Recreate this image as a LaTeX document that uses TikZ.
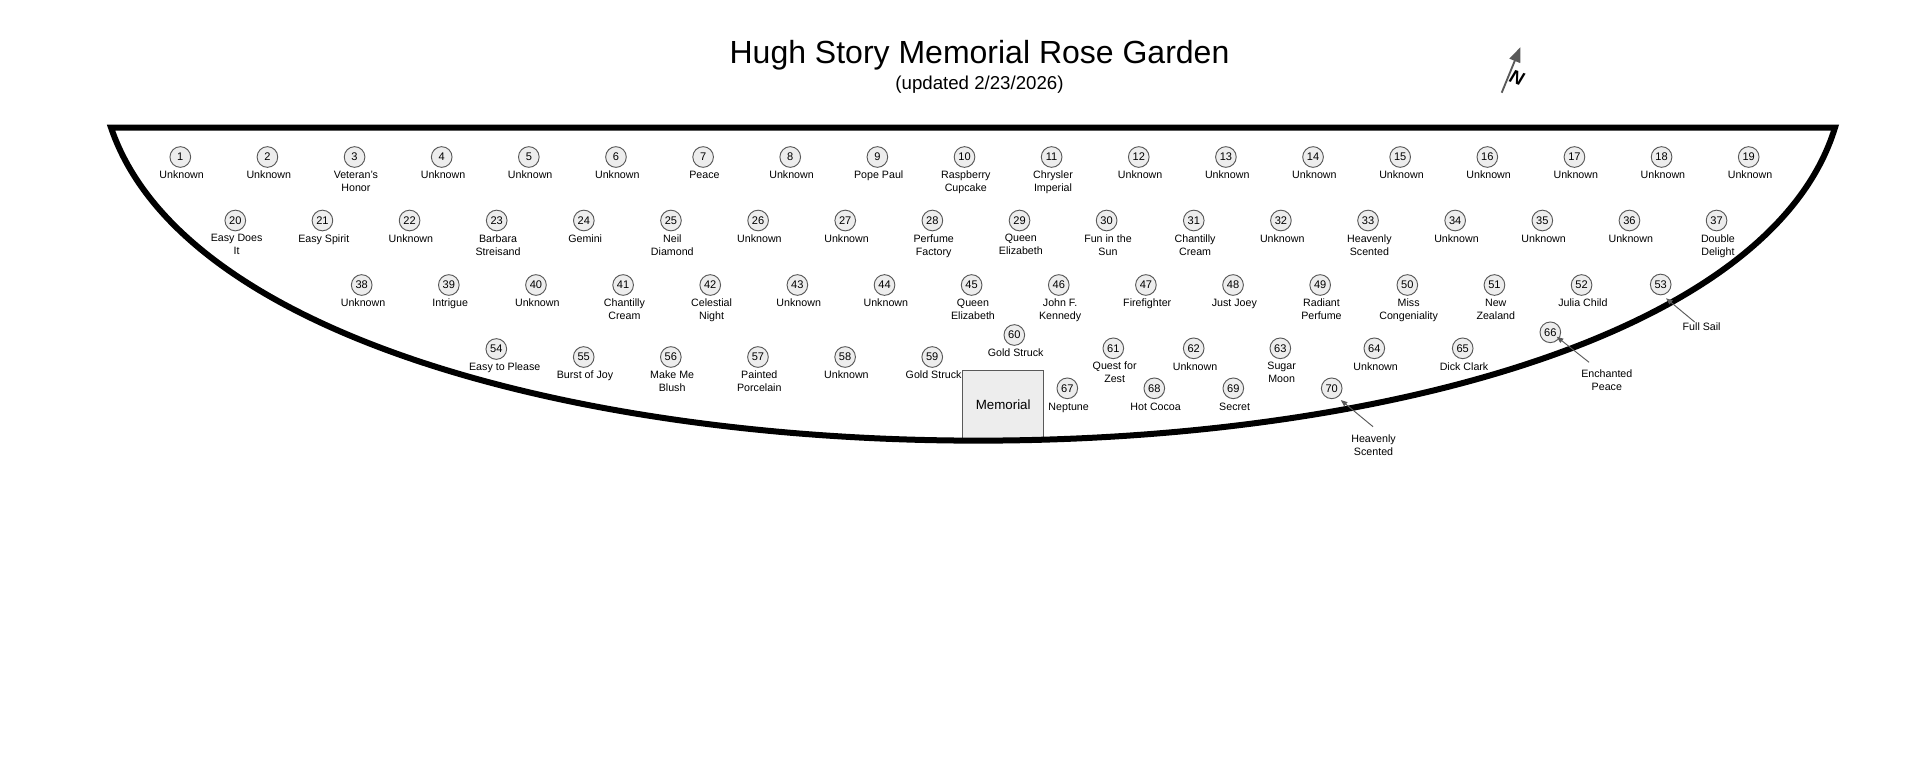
\documentclass[tikz,border=0pt]{standalone}
\usepackage{fontspec}
\setmainfont{Liberation Sans}
\usepackage{tikz}
\usetikzlibrary{arrows.meta,positioning}

\begin{document}
\begin{tikzpicture}[
  x=0.75pt, y=-0.75pt,
  node distance=49.85pt,
  rose/.style={draw=black!65, fill=black!7, circle, line width=0.7pt, minimum size=15.5pt, inner sep=0pt, outer sep=0pt, font=\fontsize{8.3}{9}\selectfont},
  rosename/.style={align=center, inner sep=0pt, outer sep=0pt, xshift=1pt, execute at begin node={\rule{0pt}{6pt}}, font=\fontsize{8}{9.75}\selectfont},
  memorial/.style={draw=black!65, fill=black!7, line width=0.7pt, minimum width=60.75pt, minimum height=51pt, inner sep=0pt, outer sep=0pt, font=\fontsize{10}{12}\selectfont},
  pointer/.style={-{Triangle[length=5pt,width=3.8pt]}, draw=black!65, line width=0.7pt},
  northarrow/.style={-{Triangle[length=11pt,width=8.5pt]}, draw=black!65, line width=1.4pt}
]
  \useasboundingbox (0,0) rectangle (1920,768);

  \node[font=\fontsize{24}{28}\selectfont] (title) at (979.5,55.5) {Hugh Story Memorial Rose Garden};
  \node[font=\fontsize{14}{16}\selectfont] (subtitle) at (979.5,85) {(updated 2/23/2026)};

  % north arrow
  \coordinate (tail) at (1501.7,92.7);
  \coordinate (head) at (1520.3,47.3);
  \draw[northarrow] (tail) -- (head);
  \node[rotate=-20, font=\fontsize{14}{16}\bfseries\itshape\selectfont] (north) at (1517,77.5) {N};

  % memorial, then the bed outline over its lower edge
  \node[memorial] (stone) at (1003.2,404.3) {Memorial};
  \draw[line width=4.5pt, miter limit=10] (111,127.5) .. controls (252,545) and (1708,545) .. (1835,127.5) -- cycle;

  % first row
  \node[rose] (r1) at (180.3,157) {1};
  \node[rose, right=of r1] (r2) {2};
  \node[rose, right=of r2] (r3) {3};
  \node[rose, right=of r3] (r4) {4};
  \node[rose, right=of r4] (r5) {5};
  \node[rose, right=of r5] (r6) {6};
  \node[rose, right=of r6] (r7) {7};
  \node[rose, right=of r7] (r8) {8};
  \node[rose, right=of r8] (r9) {9};
  \node[rose, right=of r9] (r10) {10};
  \node[rose, right=of r10] (r11) {11};
  \node[rose, right=of r11] (r12) {12};
  \node[rose, right=of r12] (r13) {13};
  \node[rose, right=of r13] (r14) {14};
  \node[rose, right=of r14] (r15) {15};
  \node[rose, right=of r15] (r16) {16};
  \node[rose, right=of r16] (r17) {17};
  \node[rose, right=of r17] (r18) {18};
  \node[rose, right=of r18] (r19) {19};

  \node[rosename, below=2.7pt of r1] (n1) {Unknown};
  \node[rosename, below=2.7pt of r2] (n2) {Unknown};
  \node[rosename, below=2.7pt of r3] (n3) {Veteran's\\Honor};
  \node[rosename, below=2.7pt of r4] (n4) {Unknown};
  \node[rosename, below=2.7pt of r5] (n5) {Unknown};
  \node[rosename, below=2.7pt of r6] (n6) {Unknown};
  \node[rosename, below=2.7pt of r7] (n7) {Peace};
  \node[rosename, below=2.7pt of r8] (n8) {Unknown};
  \node[rosename, below=2.7pt of r9] (n9) {Pope Paul};
  \node[rosename, below=2.7pt of r10] (n10) {Raspberry\\Cupcake};
  \node[rosename, below=2.7pt of r11] (n11) {Chrysler\\Imperial};
  \node[rosename, below=2.7pt of r12] (n12) {Unknown};
  \node[rosename, below=2.7pt of r13] (n13) {Unknown};
  \node[rosename, below=2.7pt of r14] (n14) {Unknown};
  \node[rosename, below=2.7pt of r15] (n15) {Unknown};
  \node[rosename, below=2.7pt of r16] (n16) {Unknown};
  \node[rosename, below=2.7pt of r17] (n17) {Unknown};
  \node[rosename, below=2.7pt of r18] (n18) {Unknown};
  \node[rosename, below=2.7pt of r19] (n19) {Unknown};

  % second row
  \node[rose] (r20) at (235.3,220.5) {20};
  \node[rose, right=of r20] (r21) {21};
  \node[rose, right=of r21] (r22) {22};
  \node[rose, right=of r22] (r23) {23};
  \node[rose, right=of r23] (r24) {24};
  \node[rose, right=of r24] (r25) {25};
  \node[rose, right=of r25] (r26) {26};
  \node[rose, right=of r26] (r27) {27};
  \node[rose, right=of r27] (r28) {28};
  \node[rose, right=of r28] (r29) {29};
  \node[rose, right=of r29] (r30) {30};
  \node[rose, right=of r30] (r31) {31};
  \node[rose, right=of r31] (r32) {32};
  \node[rose, right=of r32] (r33) {33};
  \node[rose, right=of r33] (r34) {34};
  \node[rose, right=of r34] (r35) {35};
  \node[rose, right=of r35] (r36) {36};
  \node[rose, right=of r36] (r37) {37};

  \node[rosename, below=2.7pt of r20] (n20) {Easy Does\\It};
  \node[rosename, below=2.7pt of r21] (n21) {Easy Spirit};
  \node[rosename, below=2.7pt of r22] (n22) {Unknown};
  \node[rosename, below=2.7pt of r23] (n23) {Barbara\\Streisand};
  \node[rosename, below=2.7pt of r24] (n24) {Gemini};
  \node[rosename, below=2.7pt of r25] (n25) {Neil\\Diamond};
  \node[rosename, below=2.7pt of r26] (n26) {Unknown};
  \node[rosename, below=2.7pt of r27] (n27) {Unknown};
  \node[rosename, below=2.7pt of r28] (n28) {Perfume\\Factory};
  \node[rosename, below=2.7pt of r29] (n29) {Queen\\Elizabeth};
  \node[rosename, below=2.7pt of r30] (n30) {Fun in the\\Sun};
  \node[rosename, below=2.7pt of r31] (n31) {Chantilly\\Cream};
  \node[rosename, below=2.7pt of r32] (n32) {Unknown};
  \node[rosename, below=2.7pt of r33] (n33) {Heavenly\\Scented};
  \node[rosename, below=2.7pt of r34] (n34) {Unknown};
  \node[rosename, below=2.7pt of r35] (n35) {Unknown};
  \node[rosename, below=2.7pt of r36] (n36) {Unknown};
  \node[rosename, below=2.7pt of r37] (n37) {Double\\Delight};

  % third row
  \node[rose] (r38) at (361.7,285) {38};
  \node[rose, right=of r38] (r39) {39};
  \node[rose, right=of r39] (r40) {40};
  \node[rose, right=of r40] (r41) {41};
  \node[rose, right=of r41] (r42) {42};
  \node[rose, right=of r42] (r43) {43};
  \node[rose, right=of r43] (r44) {44};
  \node[rose, right=of r44] (r45) {45};
  \node[rose, right=of r45] (r46) {46};
  \node[rose, right=of r46] (r47) {47};
  \node[rose, right=of r47] (r48) {48};
  \node[rose, right=of r48] (r49) {49};
  \node[rose, right=of r49] (r50) {50};
  \node[rose, right=of r50] (r51) {51};
  \node[rose, right=of r51] (r52) {52};
  \node[rose] (r53) at (1660.7,284.5) {53};

  \node[rosename, below=2.7pt of r38] (n38) {Unknown};
  \node[rosename, below=2.7pt of r39] (n39) {Intrigue};
  \node[rosename, below=2.7pt of r40] (n40) {Unknown};
  \node[rosename, below=2.7pt of r41] (n41) {Chantilly\\Cream};
  \node[rosename, below=2.7pt of r42] (n42) {Celestial\\Night};
  \node[rosename, below=2.7pt of r43] (n43) {Unknown};
  \node[rosename, below=2.7pt of r44] (n44) {Unknown};
  \node[rosename, below=2.7pt of r45] (n45) {Queen\\Elizabeth};
  \node[rosename, below=2.7pt of r46] (n46) {John F.\\Kennedy};
  \node[rosename, below=2.7pt of r47] (n47) {Firefighter};
  \node[rosename, below=2.7pt of r48] (n48) {Just Joey};
  \node[rosename, below=2.7pt of r49] (n49) {Radiant\\Perfume};
  \node[rosename, below=2.7pt of r50] (n50) {Miss\\Congeniality};
  \node[rosename, below=2.7pt of r51] (n51) {New\\Zealand};
  \node[rosename, below=2.7pt of r52] (n52) {Julia Child};
  \node[rosename, anchor=north] (n53) at (1700.3,322.5) {Full Sail};

  % fourth row
  \node[rose] (r54) at (496.3,349) {54};
  \node[rose] (r55) at (583.7,357) {55};
  \node[rose, right=of r55] (r56) {56};
  \node[rose, right=of r56] (r57) {57};
  \node[rose, right=of r57] (r58) {58};
  \node[rose, right=of r58] (r59) {59};
  \node[rose] (r60) at (1014.3,335) {60};
  \node[rose] (r61) at (1113.3,348.3) {61};
  \node[rose] (r62) at (1193.7,348.3) {62};
  \node[rose] (r63) at (1280.3,348.3) {63};
  \node[rose] (r64) at (1374.3,348.3) {64};
  \node[rose] (r65) at (1462.7,348.3) {65};
  \node[rose] (r66) at (1550.3,332.3) {66};

  \node[rosename, below=2.7pt of r54, xshift=5.3pt] (n54) {Easy to Please};
  \node[rosename, below=2.7pt of r55] (n55) {Burst of Joy};
  \node[rosename, below=2.7pt of r56] (n56) {Make Me\\Blush};
  \node[rosename, below=2.7pt of r57] (n57) {Painted\\Porcelain};
  \node[rosename, below=2.7pt of r58] (n58) {Unknown};
  \node[rosename, below=2.7pt of r59] (n59) {Gold Struck};
  \node[rosename, below=2.7pt of r60] (n60) {Gold Struck};
  \node[rosename, below=2.7pt of r61] (n61) {Quest for\\Zest};
  \node[rosename, below=2.7pt of r62] (n62) {Unknown};
  \node[rosename, below=2.7pt of r63] (n63) {Sugar\\Moon};
  \node[rosename, below=2.7pt of r64] (n64) {Unknown};
  \node[rosename, below=2.7pt of r65] (n65) {Dick Clark};
  \node[rosename, anchor=north] (n66) at (1605.5,369.5) {Enchanted\\Peace};

  % fifth row
  \node[rose] (r67) at (1067.3,388.3) {67};
  \node[rose] (r68) at (1154.3,388.3) {68};
  \node[rose] (r69) at (1233.3,388.3) {69};
  \node[rose] (r70) at (1331.7,388.3) {70};

  \node[rosename, below=2.7pt of r67] (n67) {Neptune};
  \node[rosename, below=2.7pt of r68] (n68) {Hot Cocoa};
  \node[rosename, below=2.7pt of r69] (n69) {Secret};
  \node[rosename, anchor=north] (n70) at (1372.2,434.5) {Heavenly\\Scented};

  % labels moved off the bed
  \draw[pointer] ([shift={(-7,-0.5)}]n53.north) -- ([shift={(5.3,13.7)}]r53.center);
  \draw[pointer] ([shift={(-17.8,-7.2)}]n66.north) -- ([shift={(6.4,4.4)}]r66.center);
  \draw[pointer] ([shift={(-0.5,-7.8)}]n70.north) -- ([shift={(9,11.7)}]r70.center);
\end{tikzpicture}
\end{document}
